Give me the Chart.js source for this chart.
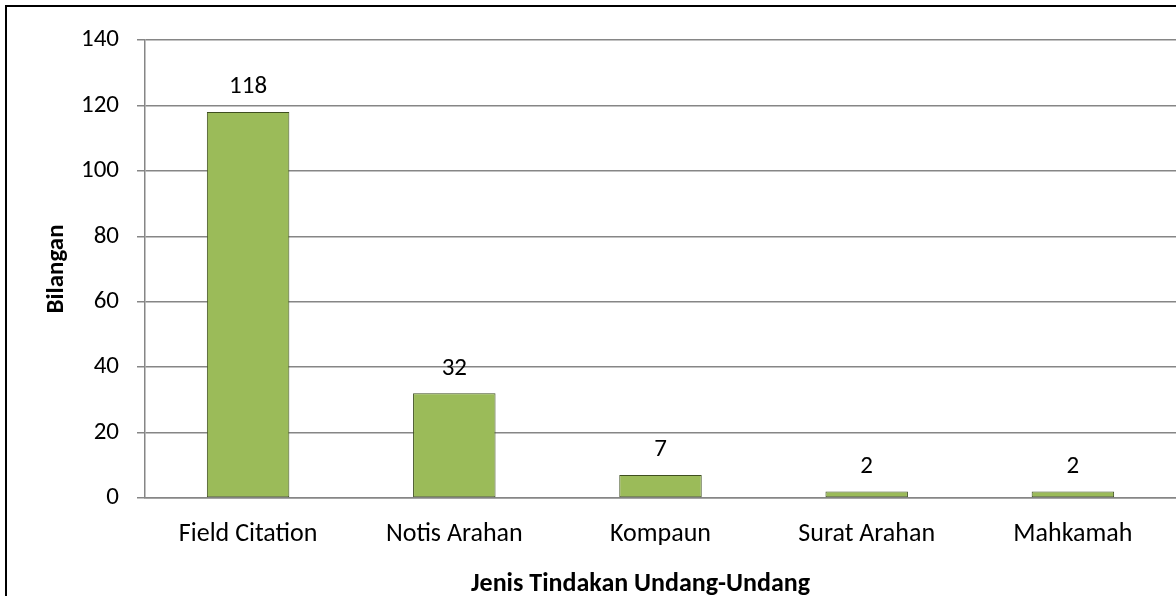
<!DOCTYPE html>
<html>
<head>
<meta charset="utf-8">
<script src="https://cdn.jsdelivr.net/npm/chart.js@4"></script>
<style>
  html, body { margin: 0; padding: 0; background: #fff; overflow: hidden; }
  #wrap { width: 1176px; height: 596px; position: relative; }
</style>
</head>
<body>
<div id="wrap"><canvas id="chart"></canvas></div>
<script>
const categories = ['Field Citation', 'Notis Arahan', 'Kompaun', 'Surat Arahan', 'Mahkamah'];
const counts = [118, 32, 7, 2, 2];
const yTicks = [0, 20, 40, 60, 80, 100, 120, 140];
const xTitle = 'Jenis Tindakan Undang-Undang';
const yTitle = 'Bilangan';

const FONT = 'Carlito, Lato, "Open Sans", sans-serif';
const GRID = '#868686';

// outer chart frame (cropped at right and bottom in the original)
const framePlugin = {
  id: 'frame',
  beforeDraw(chart) {
    const ctx = chart.ctx;
    ctx.save();
    ctx.fillStyle = '#fff';
    ctx.fillRect(0, 0, chart.width, chart.height);
    ctx.strokeStyle = '#000';
    ctx.lineWidth = 2;
    ctx.strokeRect(6, 6, chart.width + 20, chart.height + 20);
    ctx.restore();
  }
};

// value labels above each bar, plus the x axis title (sits a bit left of the plot centre)
const valueLabels = {
  id: 'valueLabels',
  afterDatasetsDraw(chart) {
    const ctx = chart.ctx;
    const meta = chart.getDatasetMeta(0);
    ctx.save();
    ctx.font = '25px ' + FONT;
    ctx.fillStyle = '#000';
    ctx.textAlign = 'center';
    ctx.textBaseline = 'middle';
    meta.data.forEach((bar, i) => {
      ctx.fillText(String(counts[i]), bar.x, bar.y - 25);
    });

    const area = chart.chartArea;
    ctx.font = 'bold 26px ' + FONT;
    ctx.textBaseline = 'alphabetic';
    ctx.fillText(xTitle, (area.left + area.right) / 2 - 20, 591);
    ctx.restore();
  }
};

new Chart(document.getElementById('chart'), {
  type: 'bar',
  data: {
    labels: categories,
    datasets: [{
      label: yTitle,
      data: counts,
      backgroundColor: '#9BBB59',
      borderColor: '#3f4f20',
      borderWidth: 1,
      borderSkipped: false,
      barPercentage: 0.8,
      categoryPercentage: 0.5
    }]
  },
  options: {
    responsive: true,
    maintainAspectRatio: false,
    animation: false,
    layout: { padding: { top: 40, left: 0, right: 0, bottom: 0 } },
    plugins: {
      legend: { display: false },
      tooltip: { enabled: false }
    },
    scales: {
      x: {
        grid: { display: false, drawTicks: false },
        border: { display: true, color: GRID, width: 1.5 },
        ticks: {
          color: '#000',
          font: { family: FONT, size: 26 },
          padding: 21,
          maxRotation: 0,
          autoSkip: false
        },
        afterFit(scale) { scale.height = 98; }
      },
      y: {
        min: 0,
        max: 140,
        afterBuildTicks(scale) { scale.ticks = yTicks.map(v => ({ value: v })); },
        grid: { color: GRID, lineWidth: 1.5, tickLength: 8, drawTicks: true },
        border: { display: true, color: GRID, width: 1.5 },
        ticks: {
          color: '#000',
          font: { family: FONT, size: 25 },
          padding: 18
        },
        title: {
          display: true,
          text: yTitle,
          color: '#000',
          font: { family: FONT, size: 25, weight: 'bold' },
          padding: { top: 42, bottom: 0 }
        },
        afterFit(scale) { scale.width = 145; }
      }
    }
  },
  plugins: [framePlugin, valueLabels]
});
</script>
</body>
</html>
